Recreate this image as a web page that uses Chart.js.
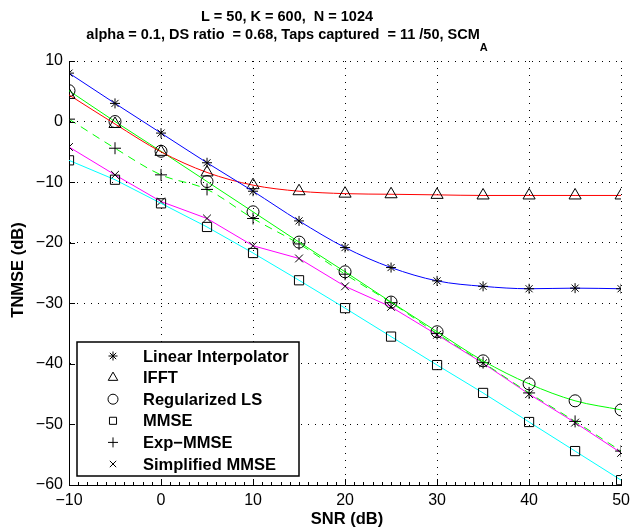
<!DOCTYPE html>
<html>
<head>
<meta charset="utf-8">
<script src="https://cdn.jsdelivr.net/npm/chart.js@4.4.1/dist/chart.umd.min.js"></script>
<style>
  html, body { margin: 0; padding: 0; background: #fff; }
  #wrap { width: 636px; height: 531px; }
</style>
</head>
<body>
<div id="wrap"><canvas id="chart" width="636" height="531"></canvas></div>
<script>
// data (SNR in dB, TNMSE in dB)
const snr = [-10, -5, 0, 5, 10, 15, 20, 25, 30, 35, 40, 45, 50];
const linearInterp = [8, 3, -1.9, -6.8, -11.5, -16.4, -20.8, -24.1, -26.3, -27.2, -27.6, -27.5, -27.6];
const ifft = [4.4, -0.4, -5.0, -8.4, -10.5, -11.5, -11.9, -12.0, -12.1, -12.2, -12.2, -12.2, -12.2];
const regularizedLS = [5.1, 0, -4.9, -9.9, -14.9, -19.9, -24.8, -29.8, -34.7, -39.5, -43.3, -46.1, -47.6];
const mmse = [-6.4, -9.6, -13.5, -17.4, -21.7, -26.2, -30.8, -35.5, -40.2, -44.8, -49.6, -54.4, -59.2];
const expMmse = [0.4, -4.4, -8.8, -11.2, -16.0, -20.2, -25.2, -29.9, -35.0, -39.8, -44.8, -49.5, -54.4];
const simplifiedMmse = [-4.2, -8.8, -13.2, -16.0, -20.5, -22.6, -27.2, -30.6, -35.2, -39.9, -45.0, -49.7, -54.7];

const seriesNames = ['Linear Interpolator', 'IFFT', 'Regularized LS', 'MMSE', 'Exp\u2212MMSE', 'Simplified MMSE'];
const xTicks = [-10, 0, 10, 20, 30, 40, 50];
const yTicks = [-60, -50, -40, -30, -20, -10, 0, 10];
const titleLine1 = 'L = 50, K = 600,  N = 1024';
const titleLine2 = 'alpha = 0.1, DS ratio  = 0.68, Taps captured  = 11 /50, SCM';
const titleSub = 'A';
const xTitle = 'SNR (dB)';
const yTitle = 'TNMSE (dB)';

const FONT = '"Liberation Sans", Arial, Helvetica, sans-serif';
const BOLD = 'bold 16.5px ' + FONT;
const TITLE = 'bold 14.5px ' + FONT;

const toPts = arr => arr.map((v, i) => ({ x: snr[i], y: v }));
const minus = v => (v < 0 ? '\u2212' + Math.abs(v) : String(v));

function makeSet(label, data, color, style, radius, extra) {
    return Object.assign({
        label: label,
        data: toPts(data),
        borderColor: color,
        borderWidth: 1,
        pointStyle: style,
        pointRadius: radius,
        pointBorderColor: '#000',
        pointBackgroundColor: 'rgba(0,0,0,0)',
        pointBorderWidth: 1,
        cubicInterpolationMode: 'monotone',
        fill: false
    }, extra || {});
}

// 目盛り（内向き）を描く
const innerTicks = {
    id: 'innerTicks',
    afterDraw(chart) {
        const { ctx, chartArea: a, scales: { x, y } } = chart;
        ctx.save();
        ctx.strokeStyle = '#000';
        ctx.lineWidth = 1;
        ctx.beginPath();
        yTicks.forEach(v => {
            const py = Math.round(y.getPixelForValue(v)) + 0.5;
            ctx.moveTo(a.left, py);
            ctx.lineTo(a.left + 6, py);
        });
        for (let v = -10; v <= 50; v++) {
            const px = Math.round(x.getPixelForValue(v)) + 0.5;
            ctx.moveTo(px, a.bottom);
            ctx.lineTo(px, a.bottom - (v % 10 === 0 ? 6 : 3));
        }
        ctx.stroke();
        ctx.restore();
    }
};

// タイトルと軸ラベル
const texts = {
    id: 'texts',
    afterDraw(chart) {
        const ctx = chart.ctx;
        ctx.save();
        ctx.fillStyle = '#000';
        ctx.textBaseline = 'alphabetic';
        ctx.textAlign = 'left';
        const cx = 287;
        ctx.font = TITLE;
        const w1 = ctx.measureText(titleLine1).width;
        ctx.fillText(titleLine1, cx - w1 / 2, 20.5);
        const w2 = ctx.measureText(titleLine2).width;
        ctx.font = 'bold 11px ' + FONT;
        const ws = ctx.measureText(titleSub).width;
        const x0 = cx - (w2 + ws) / 2;
        ctx.font = TITLE;
        ctx.fillText(titleLine2, x0, 39);
        ctx.font = 'bold 11px ' + FONT;
        ctx.fillText(titleSub, x0 + w2, 51);

        ctx.font = BOLD;
        ctx.textAlign = 'center';
        ctx.textBaseline = 'middle';
        ctx.fillText(xTitle, 347, 519);
        ctx.translate(18.5, 270);
        ctx.rotate(-Math.PI / 2);
        ctx.fillText(yTitle, 0, 0);
        ctx.restore();
    }
};

// 凡例（プロット内の左下）
const boxLegend = {
    id: 'boxLegend',
    afterDraw(chart) {
        const ctx = chart.ctx;
        const bx = 77, by = 342, bw = 222, bh = 134;
        const legendRadius = [4.5, 5.5, 5, 5, 5, 4.5];
        ctx.save();
        ctx.fillStyle = '#fff';
        ctx.fillRect(bx, by, bw, bh);
        ctx.strokeStyle = '#000';
        ctx.lineWidth = 1.5;
        ctx.strokeRect(bx, by, bw, bh);
        ctx.lineWidth = 1;
        ctx.fillStyle = 'rgba(0,0,0,0)';
        chart.data.datasets.forEach((ds, i) => {
            Chart.helpers.drawPoint(ctx, {
                pointStyle: ds.pointStyle,
                radius: legendRadius[i],
                rotation: 0,
                borderWidth: 1
            }, 113, 356 + i * 21.6);
        });
        ctx.fillStyle = '#000';
        ctx.font = BOLD;
        ctx.textAlign = 'left';
        ctx.textBaseline = 'middle';
        chart.data.datasets.forEach((ds, i) => {
            ctx.fillText(ds.label, 143, 356 + i * 21.6 + 1);
        });
        ctx.restore();
    }
};

const gridOpts = { color: '#000', lineWidth: 1, drawTicks: false };
const borderOpts = { display: true, color: '#000', width: 1, dash: [1, 6] };

new Chart(document.getElementById('chart'), {
    type: 'line',
    data: {
        datasets: [
            makeSet(seriesNames[0], linearInterp, '#0000ff', 'star', 5),
            makeSet(seriesNames[1], ifft, '#ff0000', 'triangle', 7),
            makeSet(seriesNames[2], regularizedLS, '#00ff00', 'circle', 6),
            makeSet(seriesNames[3], mmse, '#00ffff', 'rect', 6.5, { cubicInterpolationMode: 'default', tension: 0 }),
            makeSet(seriesNames[4], expMmse, '#00ff00', 'cross', 6, { borderDash: [8, 6] }),
            makeSet(seriesNames[5], simplifiedMmse, '#ff00ff', 'crossRot', 5.5, { cubicInterpolationMode: 'default', tension: 0 })
        ]
    },
    options: {
        responsive: false,
        animation: false,
        events: [],
        layout: { padding: { top: 61, right: 10, left: 0, bottom: 0 } },
        plugins: {
            legend: { display: false },
            title: { display: false },
            tooltip: { enabled: false }
        },
        scales: {
            x: {
                type: 'linear',
                min: -10,
                max: 50,
                afterFit: s => { s.height = 46; },
                afterBuildTicks: s => { s.ticks = xTicks.map(v => ({ value: v })); },
                ticks: { color: '#000', font: { family: FONT, size: 16 }, padding: 6, maxRotation: 0, callback: minus },
                grid: gridOpts,
                border: borderOpts
            },
            y: {
                type: 'linear',
                min: -60,
                max: 10,
                afterFit: s => { s.width = 69; },
                afterBuildTicks: s => { s.ticks = yTicks.map(v => ({ value: v })); },
                ticks: { color: '#000', font: { family: FONT, size: 16 }, padding: 6, callback: minus },
                grid: gridOpts,
                border: borderOpts
            }
        }
    },
    plugins: [innerTicks, texts, boxLegend]
});
</script>
</body>
</html>
